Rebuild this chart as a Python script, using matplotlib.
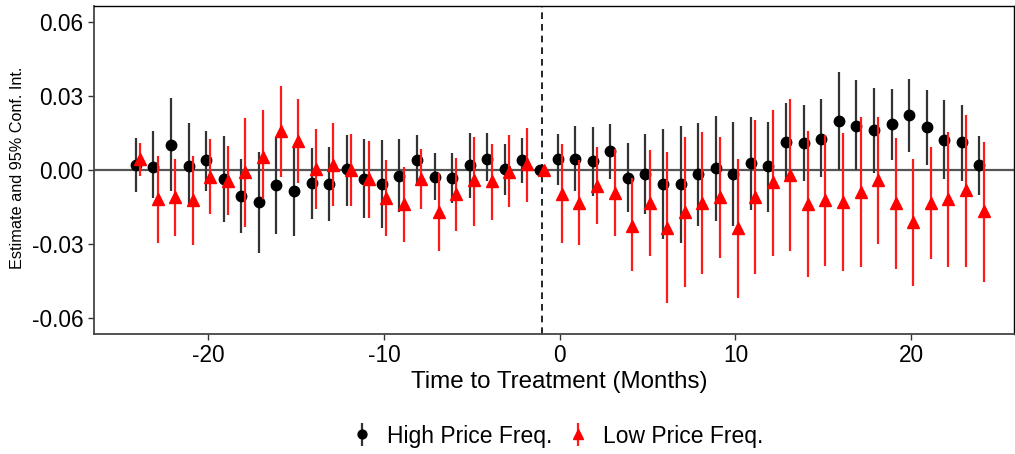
import numpy as np
import matplotlib
matplotlib.use('Agg')
import matplotlib.pyplot as plt

plt.rcParams['font.family'] = ['Liberation Sans', 'DejaVu Sans']
plt.rcParams['axes.unicode_minus'] = False

months = list(range(-24, 25))

# high price frequency: estimate and 95% interval
high_est = [0.0020, 0.0011, 0.0102, 0.0015, 0.0040, -0.0036, -0.0105, -0.0129, -0.0063, -0.0086,
            -0.0052, -0.0056, 0.0003, -0.0038, -0.0056, -0.0023, 0.0040, -0.0027, -0.0032, 0.0021,
            0.0044, 0.0003, 0.0040, 0.0000, 0.0046, 0.0046, 0.0035, 0.0075, -0.0032, -0.0017,
            -0.0056, -0.0056, -0.0017, 0.0007, -0.0017, 0.0026, 0.0015, 0.0113, 0.0107, 0.0126,
            0.0199, 0.0179, 0.0160, 0.0185, 0.0224, 0.0174, 0.0122, 0.0113, 0.0020]
high_lo = [-0.0091, -0.0113, -0.0086, -0.0150, -0.0086, -0.0212, -0.0255, -0.0338, -0.0260, -0.0266,
           -0.0197, -0.0207, -0.0145, -0.0196, -0.0236, -0.0169, -0.0060, -0.0123, -0.0134, -0.0115,
           -0.0046, -0.0102, -0.0054, 0.0000, -0.0062, -0.0086, -0.0105, -0.0038, -0.0170, -0.0180,
           -0.0279, -0.0295, -0.0227, -0.0207, -0.0227, -0.0164, -0.0169, -0.0043, -0.0047, -0.0027,
           0.0000, 0.0000, -0.0013, 0.0040, 0.0072, 0.0020, -0.0038, -0.0043, -0.0102]
high_hi = [0.0129, 0.0158, 0.0290, 0.0189, 0.0158, 0.0136, 0.0043, 0.0072, 0.0134, 0.0091,
           0.0087, 0.0091, 0.0140, 0.0123, 0.0121, 0.0123, 0.0140, 0.0067, 0.0067, 0.0150,
           0.0150, 0.0106, 0.0129, 0.0000, 0.0145, 0.0179, 0.0174, 0.0185, 0.0107, 0.0146,
           0.0164, 0.0179, 0.0191, 0.0217, 0.0193, 0.0212, 0.0193, 0.0270, 0.0262, 0.0285,
           0.0397, 0.0362, 0.0333, 0.0328, 0.0366, 0.0323, 0.0281, 0.0262, 0.0137]

# low price frequency
low_est = [0.0043, -0.0118, -0.0110, -0.0123, -0.0028, -0.0043, -0.0009, 0.0054, 0.0158, 0.0118,
           0.0004, 0.0021, 0.0000, -0.0038, -0.0113, -0.0140, -0.0035, -0.0169, -0.0097, -0.0040,
           -0.0043, -0.0007, 0.0024, 0.0000, -0.0097, -0.0134, -0.0064, -0.0093, -0.0227, -0.0132,
           -0.0234, -0.0170, -0.0134, -0.0111, -0.0235, -0.0110, -0.0050, -0.0019, -0.0140, -0.0121,
           -0.0130, -0.0090, -0.0039, -0.0134, -0.0212, -0.0134, -0.0118, -0.0083, -0.0168]
low_lo = [-0.0023, -0.0295, -0.0266, -0.0305, -0.0180, -0.0184, -0.0231, -0.0118, -0.0030, -0.0054,
          -0.0158, -0.0145, -0.0148, -0.0196, -0.0268, -0.0290, -0.0158, -0.0329, -0.0247, -0.0227,
          -0.0204, -0.0150, -0.0130, 0.0000, -0.0295, -0.0303, -0.0217, -0.0266, -0.0411, -0.0349,
          -0.0537, -0.0475, -0.0420, -0.0358, -0.0518, -0.0420, -0.0348, -0.0329, -0.0435, -0.0387,
          -0.0411, -0.0392, -0.0298, -0.0400, -0.0470, -0.0362, -0.0392, -0.0392, -0.0455]
low_hi = [0.0107, 0.0058, 0.0044, 0.0058, 0.0126, 0.0097, 0.0208, 0.0242, 0.0340, 0.0286,
          0.0165, 0.0189, 0.0145, 0.0115, 0.0040, 0.0013, 0.0086, -0.0011, 0.0048, 0.0134,
          0.0106, 0.0140, 0.0169, 0.0000, 0.0105, 0.0040, 0.0091, 0.0085, -0.0032, 0.0080,
          0.0072, 0.0134, 0.0154, 0.0134, 0.0043, 0.0203, 0.0242, 0.0285, 0.0156, 0.0142,
          0.0150, 0.0212, 0.0212, 0.0129, 0.0043, 0.0091, 0.0154, 0.0223, 0.0113]

series_labels = ['High Price Freq.', 'Low Price Freq.']
dodge = 0.12


def yerr(est, lo, hi):
    est, lo, hi = np.array(est), np.array(lo), np.array(hi)
    return np.vstack([est - lo, hi - est])


fig = plt.figure(figsize=(10.15, 4.54), dpi=100)
ax = fig.add_axes([94 / 1015, 1 - 333.5 / 454, 920 / 1015, 327.5 / 454])

ax.axhline(0, color='#555555', lw=1.6, zorder=1)
ax.axvline(-1, color='black', lw=1.2, ls=(0, (4, 3)), zorder=1)

x = np.array(months)
h_high = ax.errorbar(x - dodge, high_est, yerr=yerr(high_est, high_lo, high_hi),
                     fmt='o', color='black', ecolor='#333333', elinewidth=1.6,
                     ms=7.5, capsize=0, zorder=3, label=series_labels[0])
h_low = ax.errorbar(x + dodge, low_est, yerr=yerr(low_est, low_lo, low_hi),
                    fmt='^', color='red', ecolor='#ff1a1a', elinewidth=1.6,
                    ms=9, capsize=0, zorder=4, label=series_labels[1])

ax.set_xlim(-26.5, 25.85)
ax.set_ylim(-0.0662, 0.0663)
ax.set_xticks([-20, -10, 0, 10, 20])
ax.set_yticks([-0.06, -0.03, 0.0, 0.03, 0.06])
ax.set_yticklabels(['-0.06', '-0.03', '0.00', '0.03', '0.06'])
ax.tick_params(labelsize=16.3, length=4, width=1, color='#333333', pad=3.5, labelcolor='black')

for side in ['left', 'bottom']:
    ax.spines[side].set_color('#444444')
    ax.spines[side].set_linewidth(1.3)
for side in ['top', 'right']:
    ax.spines[side].set_color('black')
    ax.spines[side].set_linewidth(1.0)

ax.set_xlabel('Time to Treatment (Months)', fontsize=17.4, va='center')
ax.xaxis.set_label_coords((559.5 - 94) / 920, (333.5 - 382) / 327.5)
fig.text(18 / 1015, 1 - 168 / 454, 'Estimate and 95% Conf. Int.', rotation=90,
         fontsize=11.7, ha='center', va='center')

fig.legend(handles=[h_high, h_low], loc='center', bbox_to_anchor=(557 / 1015, 1 - 436 / 454),
           ncol=2, frameon=False, fontsize=16.5, handlelength=1.0, columnspacing=0.6,
           handletextpad=0.6, markerscale=0.85)

fig.savefig('out.png', dpi=100)
